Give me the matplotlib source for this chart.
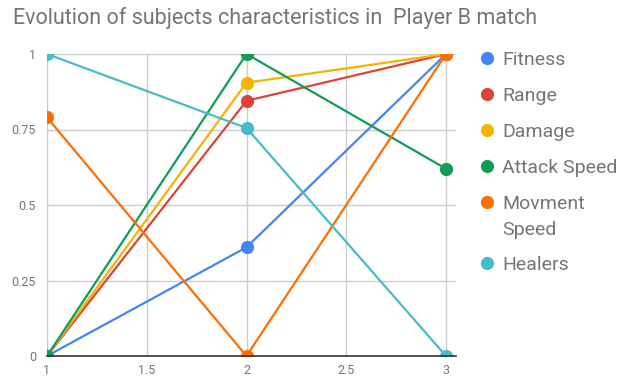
import matplotlib
matplotlib.use("Agg")
import matplotlib.pyplot as plt
from matplotlib.lines import Line2D

plt.rcParams['font.family'] = ['Roboto', 'DejaVu Sans']

stages = [1, 2, 3]
series_names = ["Fitness", "Range", "Damage", "Attack Speed", "Movment\nSpeed", "Healers"]
fitness = [0.0, 0.36, 1.0]
range_vals = [0.0, 0.845, 1.0]
damage = [0.0, 0.905, 1.0]
attack_speed = [0.0, 1.0, 0.62]
movement_speed = [0.79, 0.0, 1.0]
healers = [1.0, 0.755, 0.0]
colors = ["#4285F4", "#DB4437", "#F4B400", "#0F9D58", "#FF6D01", "#46BDC6"]

x_ticks = [1, 1.5, 2, 2.5, 3]
x_tick_labels = ["1", "1.5", "2", "2.5", "3"]
y_ticks = [0, 0.25, 0.5, 0.75, 1]
y_tick_labels = ["0", "0.25", "0.5", "0.75", "1"]

all_series = [fitness, range_vals, damage, attack_speed, movement_speed, healers]

W, H = 634, 380
fig = plt.figure(figsize=(W / 100, H / 100), dpi=100)
ax = fig.add_axes([47/W, 24/H, (456-47)/W, (356-54)/H])

for vals, col in zip(all_series, colors):
    ax.plot(stages, vals, color=col, lw=1.6, marker='o', ms=9.5,
            markeredgewidth=0, solid_capstyle='round', zorder=3)

ax.set_xlim(1, 3.05)
ax.set_ylim(0, 1)
ax.set_xticks(x_ticks)
ax.set_xticklabels(x_tick_labels)
ax.set_yticks(y_ticks)
ax.set_yticklabels(y_tick_labels)
ax.grid(True, color="#cccccc", lw=1)
ax.set_axisbelow(True)
for s in ["top", "right", "left"]:
    ax.spines[s].set_visible(False)
ax.spines["bottom"].set_color("#333333")
ax.spines["bottom"].set_linewidth(1.2)
ax.spines["bottom"].set_zorder(4)
ax.tick_params(axis='both', length=0, colors="#757575", labelsize=9)
ax.tick_params(axis='x', pad=6)
ax.tick_params(axis='y', pad=8)

fig.text(13/W, 1 - 18/H, "Evolution of subjects characteristics in  Player B match",
         fontsize=15.5, color="#757575", va="center", ha="left")

# Legend laid out by hand: one dot and label per series, two-line label
# takes extra vertical room.
entry_pitch = 36
line_pitch = 26
y = 58
for name, col in zip(series_names, colors):
    yf = 1 - y / H
    fig.add_artist(Line2D([487/W], [yf], ls='none', marker='o', ms=9.5,
                          markeredgewidth=0, color=col, transform=fig.transFigure))
    lines = name.split("\n")
    for i, part in enumerate(lines):
        fig.text(502/W, 1 - (y + i * line_pitch) / H, part, fontsize=14,
                 color="#757575", ha="left", va="center_baseline")
    y += entry_pitch + (len(lines) - 1) * line_pitch - (len(lines) - 1)

fig.savefig("out.png", dpi=100)
